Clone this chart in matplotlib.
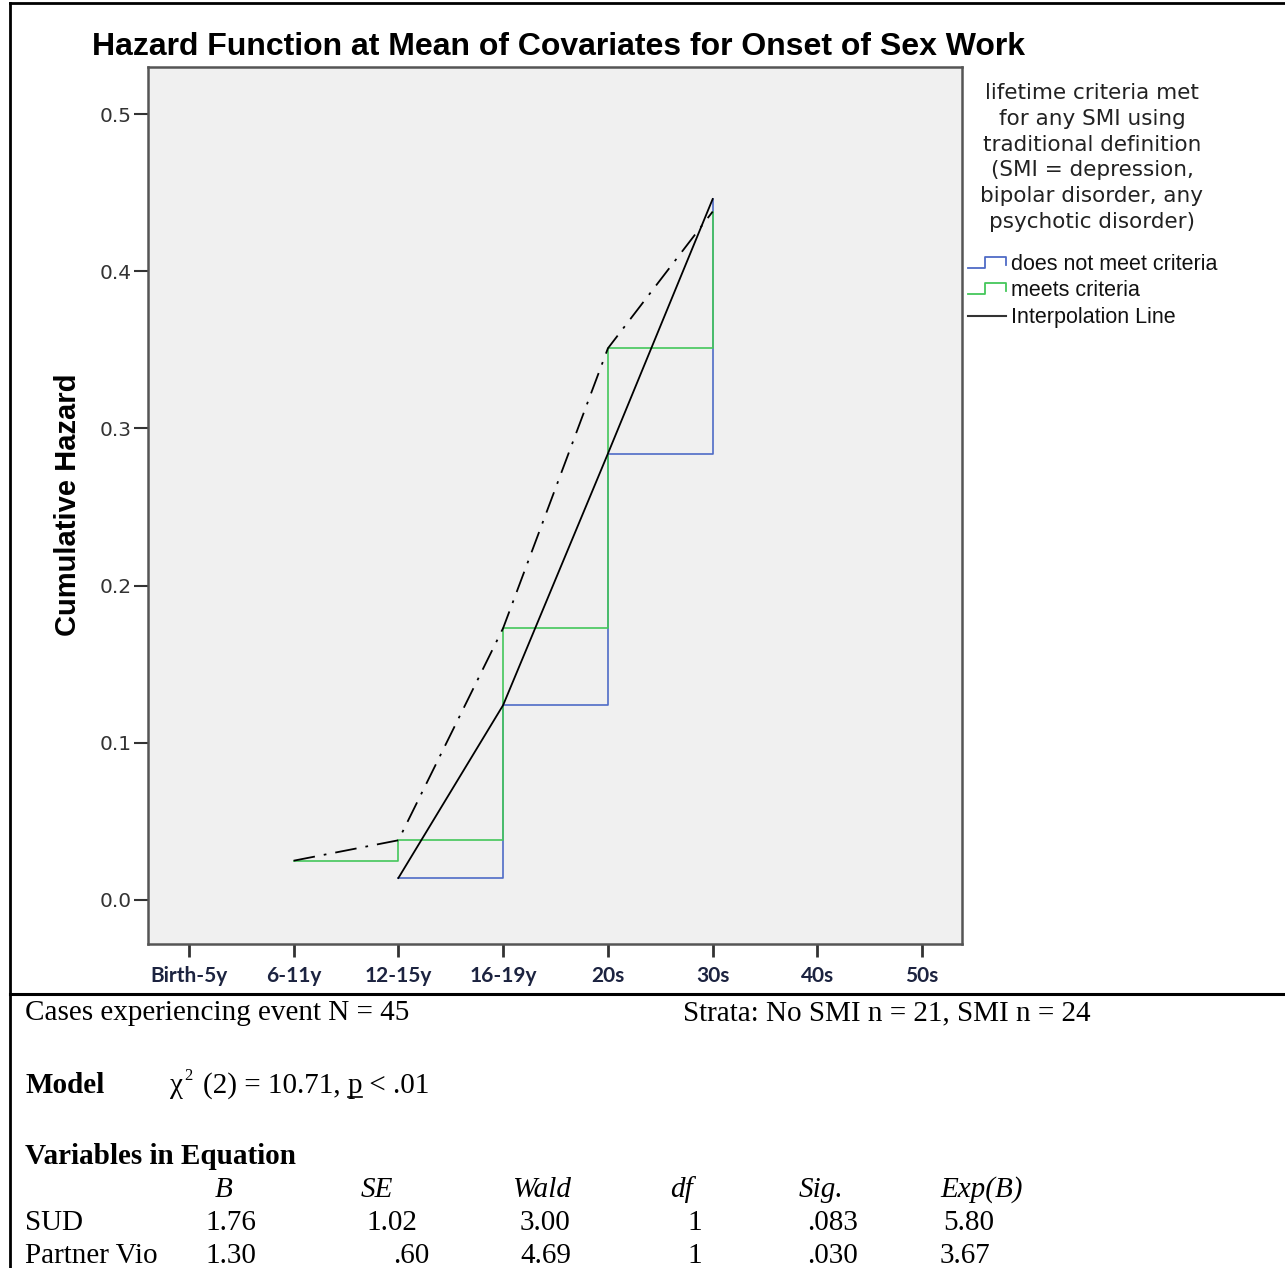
import matplotlib
matplotlib.use('Agg')
import matplotlib.pyplot as plt

# Data
age_groups = ['Birth-5y', '6-11y', '12-15y', '16-19y', '20s', '30s', '40s', '50s']
no_smi_pos = [2, 3, 4, 5]
no_smi_hazard = [0.014, 0.124, 0.284, 0.446]
smi_pos = [1, 2, 3, 4, 5]
smi_hazard = [0.025, 0.038, 0.173, 0.351, 0.438]
y_ticks = [0.0, 0.1, 0.2, 0.3, 0.4, 0.5]

legend_title = ('lifetime criteria met\nfor any SMI using\ntraditional definition\n'
                '(SMI = depression,\nbipolar disorder, any\npsychotic disorder)')
legend_labels = ['does not meet criteria', 'meets criteria', 'Interpolation Line']

table_cols = ['B', 'SE', 'Wald', 'df', 'Sig.', 'Exp(B)']
table_rows = ['SUD', 'Partner Vio']
table_vals = [['1.76', '1.02', '3.00', '1', '.083', '5.80'],
              ['1.30', '.60', '4.69', '1', '.030', '3.67']]

blue = '#4f6bc6'
green = '#44c75a'

W, H = 1285, 1268
fig = plt.figure(figsize=(W / 100, H / 100), dpi=100)

# plot area (pixels): left 148, right 962, top 67, bottom 944
ax = fig.add_axes([148 / W, 1 - 944 / H, (962 - 148) / W, (944 - 67) / H])
ax.set_facecolor('#f0f0f0')
ax.step(no_smi_pos, no_smi_hazard, where='post', color=blue, lw=1.2)
ax.step(smi_pos, smi_hazard, where='post', color=green, lw=1.2)
ax.plot(no_smi_pos, no_smi_hazard, color='black', lw=1.3)
dd, = ax.plot(smi_pos, smi_hazard, color='black', lw=1.3)
dd.set_dashes((12, 5, 1.5, 5))

ax.set_xlim(-0.39, 7.38)
ax.set_ylim(-0.028, 0.53)
ax.set_xticks(range(len(age_groups)))
ax.set_xticklabels(age_groups, fontfamily='Lato', fontweight='bold', fontsize=15, color='#1c2340')
ax.set_yticks(y_ticks)
ax.set_yticklabels(['%.1f' % v for v in y_ticks], fontsize=14.5, color='#333333')
ax.tick_params(axis='x', length=9, width=2, color='#333333', pad=7)
ax.tick_params(axis='y', length=10, width=1.5, color='#333333', pad=2)
for s in ax.spines.values():
    s.set_color('#555555')
    s.set_linewidth(1.8)

fig.text(558 / W, 1 - 47 / H, 'Hazard Function at Mean of Covariates for Onset of Sex Work',
         ha='center', va='center', fontsize=23, fontweight='bold', family='Liberation Sans')
fig.text(68 / W, 1 - 505 / H, 'Cumulative Hazard', rotation=90, ha='center', va='center',
         fontsize=21, fontweight='bold', family='Liberation Sans')

# overlay in pixel coordinates for frame, legend and table
ov = fig.add_axes([0, 0, 1, 1], facecolor='none')
ov.set_xlim(0, W)
ov.set_ylim(H, 0)
ov.axis('off')
ov.plot([10, 10], [3, H], color='black', lw=2)
ov.plot([10, W], [3, 3], color='black', lw=2)
ov.plot([10, W], [994, 994], color='black', lw=2.2)

# legend
ov.text(1092, 83, legend_title, ha='center', va='top', fontsize=15.5, linespacing=1.36,
        family='DejaVu Sans', color='#222222')
entry_y = [264, 290, 317]
for yy, col in zip(entry_y[:2], [blue, green]):
    ov.plot([968, 985, 985, 1006, 1006], [yy + 4, yy + 4, yy - 7, yy - 7, yy + 1], color=col, lw=1.3)
ov.plot([968, 1006], [entry_y[2] - 1, entry_y[2] - 1], color='#333333', lw=1.5)
for yy, lab in zip(entry_y, legend_labels):
    ov.text(1011, yy, lab, ha='left', va='center', fontsize=15.5, family='Liberation Sans', color='#111111')

# table text
serif = dict(family='Liberation Serif', fontsize=21, color='black', va='baseline')
ov.text(25, 1020, 'Cases experiencing event N = 45', **serif)
ov.text(683, 1020, 'Strata: No SMI n = 21, SMI n = 24', **serif)
ov.text(25, 1093, 'Model', fontweight='bold', **serif)

renderer = fig.canvas.get_renderer()


def width_px(t):
    return t.get_window_extent(renderer).width


x = 170
t = ov.text(x, 1093, '\u03c7', **serif)
x += width_px(t) + 1
ov.text(x, 1080, '2', family='Liberation Serif', fontsize=12, va='baseline')
x = 203
t = ov.text(x, 1093, '(2) = 10.71, ', **serif)
x += width_px(t)
tp = ov.text(x, 1093, 'p', **serif)
pw = width_px(tp)
ov.plot([x, x + pw], [1097, 1097], color='black', lw=1.2)
ov.text(x + pw, 1093, ' < .01', **serif)

ov.text(25, 1164, 'Variables in Equation', fontweight='bold', **serif)
col_x = [215, 361, 512, 670, 799, 940]
val_x = [[205, 366, 520, 687, 807, 943],
         [205, 393, 520, 687, 807, 940]]
for cx, c in zip(col_x, table_cols):
    ov.text(cx, 1197, c, style='italic', **serif)
for r, (name, vals) in enumerate(zip(table_rows, table_vals)):
    yy = 1230 + 33 * r
    ov.text(25, yy, name, **serif)
    for vx, v in zip(val_x[r], vals):
        ov.text(vx, yy, v, **serif)

fig.savefig('out.png', dpi=100)
